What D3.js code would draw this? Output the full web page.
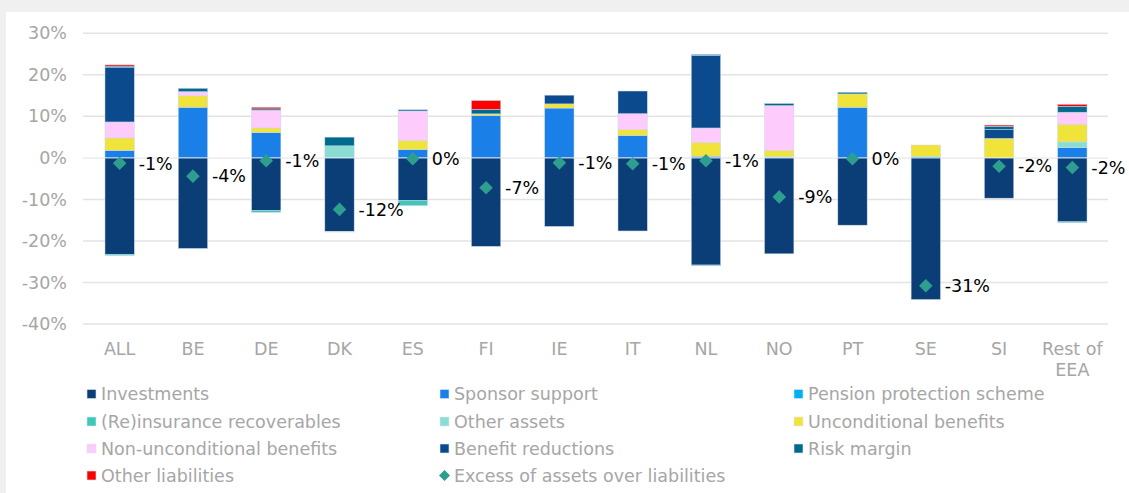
<!DOCTYPE html>
<html>
<head>
<meta charset="utf-8">
<script src="https://cdn.jsdelivr.net/npm/d3@7"></script>
<style>
  html, body { margin: 0; padding: 0; background: #f0f0f0; }
  svg { display: block; font-family: "DejaVu Sans", Verdana, sans-serif; }
</style>
</head>
<body>
<svg id="chart" width="1129" height="493"></svg>
<script>
// ---- data ----
const categories = ["ALL", "BE", "DE", "DK", "ES", "FI", "IE", "IT", "NL", "NO", "PT", "SE", "SI", "Rest of EEA"];
const investments   = [-23.2, -21.8, -12.7, -17.7, -10.3, -21.3, -16.5, -17.6, -25.8, -23.1, -16.2, -34.1, -9.7, -15.4];
const sponsorSupport = [1.8, 12.2, 6.1, 0, 2.0, 10.2, 12.0, 5.4, 0.4, 0, 12.2, 0, 0, 2.5];
const pensionProtection = [0, 0, 0, 0, 0, 0, 0, 0, 0, 0, 0, 0.3, 0, 0];
const reinsurance   = [-0.3, 0, -0.4, 0, -1.2, 0, 0, 0, -0.2, 0, 0, 0, 0, -0.2];
const otherAssets   = [0, 0, 0, 2.9, 0, 0, 0, 0, 0, 0.3, 0, 0, 0, 1.35];
const unconditional = [3.0, 2.75, 1.1, -0.15, 2.2, 0.4, 1.0, 1.45, 3.3, 1.5, 3.2, 2.8, 4.7, 4.25];
const nonUnconditional = [3.85, 1.0, 4.3, 0, 7.1, 0, 0, 3.8, 3.5, 10.8, 0, 0, 0, 2.9];
const benefitReductions = [13.2, 0, 0, 0, 0, 0, 2.1, 5.45, 17.5, 0, 0, 0, 2.1, 0];
const riskMargin    = [0.25, 0.8, 0.3, 2.1, 0.3, 1.1, 0, 0, 0.2, 0.5, 0.4, 0, 0.8, 1.4];
const otherLiabilities = [0.3, 0, 0.4, 0, 0, 2.1, 0, 0, 0, 0, 0, 0, 0.3, 0.5];
const excessAssets  = [-1.3, -4.4, -0.7, -12.4, -0.2, -7.2, -1.2, -1.4, -0.7, -9.4, -0.2, -30.8, -2.0, -2.3];
const yTicks = [-40, -30, -20, -10, 0, 10, 20, 30];

const seriesNames = ["Investments", "Sponsor support", "Pension protection scheme",
  "(Re)insurance recoverables", "Other assets", "Unconditional benefits",
  "Non-unconditional benefits", "Benefit reductions", "Risk margin", "Other liabilities"];
const seriesValues = [investments, sponsorSupport, pensionProtection, reinsurance, otherAssets,
  unconditional, nonUnconditional, benefitReductions, riskMargin, otherLiabilities];
const seriesColors = ["#0b3d77", "#1a80e8", "#00b0f0", "#3fc8b8", "#8addd3",
  "#f0e33a", "#fdccfd", "#0c4a8e", "#006a8e", "#ff0000"];
const excessName = "Excess of assets over liabilities";
const excessColor = "#2e9e8e";

// ---- build ----
const svg = d3.select("#chart");
svg.append("rect").attr("x", 6).attr("y", 12).attr("width", 1129 - 6).attr("height", 493 - 12).attr("fill", "#fff");

const x = d3.scaleBand().domain(categories).range([83, 1109]).paddingInner(0.6).paddingOuter(0.3);
const y = d3.scaleLinear().domain([-40, 30]).range([324, 33.3]);

// gridlines
svg.append("g").selectAll("line").data(yTicks).join("line")
  .attr("x1", 83).attr("x2", 1108)
  .attr("y1", d => y(d)).attr("y2", d => y(d))
  .attr("stroke", "#e3e3e3").attr("stroke-width", 1.5);

// y axis labels
const yAxis = d3.axisLeft(y).tickValues(yTicks).tickFormat(d => d + "%").tickSize(0).tickPadding(0);
const ya = svg.append("g").attr("transform", "translate(67,0)").call(yAxis);
ya.select(".domain").remove();
ya.selectAll("text").attr("fill", "#a6a6a6").attr("font-size", "17.5px")
  .attr("font-family", "DejaVu Sans, Verdana, sans-serif");

// stacked bars
const table = categories.map((c, i) => {
  const o = { cat: c };
  seriesNames.forEach((s, k) => o[s] = seriesValues[k][i]);
  return o;
});
const stack = d3.stack().keys(seriesNames).offset(d3.stackOffsetDiverging);
const stacked = stack(table);

svg.append("g").selectAll("g").data(stacked).join("g")
  .attr("fill", (d, i) => seriesColors[i])
  .selectAll("rect").data(d => d.filter(p => p[1] !== p[0])).join("rect")
  .attr("x", d => x(d.data.cat))
  .attr("width", x.bandwidth())
  .attr("y", d => y(Math.max(d[0], d[1])))
  .attr("height", d => Math.abs(y(d[0]) - y(d[1])))
  .attr("stroke", "#c8d8ea").attr("stroke-width", 0.5);

// zero line separator
svg.append("line").attr("x1", 83).attr("x2", 1108).attr("y1", y(0)).attr("y2", y(0))
  .attr("stroke", "#ffffff").attr("stroke-width", 1).attr("stroke-opacity", 0.6);

// diamonds
const dsz = 6.8;
const diamond = `M0,${-dsz}L${dsz},0L0,${dsz}L${-dsz},0Z`;
svg.append("g").selectAll("path").data(categories).join("path")
  .attr("d", diamond)
  .attr("transform", (c, i) => `translate(${x(c) + x.bandwidth() / 2},${y(excessAssets[i])})`)
  .attr("fill", excessColor);

// data labels
const fmt = v => { const r = Math.round(v); return (r === 0 ? 0 : r) + "%"; };
svg.append("g").selectAll("text").data(categories).join("text")
  .attr("x", c => x(c) + x.bandwidth() / 2 + 19)
  .attr("y", (c, i) => y(excessAssets[i]))
  .attr("dy", "0.36em")
  .attr("font-size", "17.5px").attr("fill", "#000")
  .text((c, i) => fmt(excessAssets[i]));

// x axis labels
const xl = svg.append("g").selectAll("text").data(categories).join("text")
  .attr("x", c => x(c) + x.bandwidth() / 2)
  .attr("y", 355)
  .attr("text-anchor", "middle")
  .attr("font-size", "17.5px").attr("fill", "#a6a6a6");
xl.each(function (c) {
  const words = c === "Rest of EEA" ? ["Rest of", "EEA"] : [c];
  const t = d3.select(this);
  words.forEach((w, k) => t.append("tspan").attr("x", x(c) + x.bandwidth() / 2).attr("dy", k === 0 ? 0 : 21).text(w));
});

// legend
const legendItems = seriesNames.map((n, i) => ({ name: n, color: seriesColors[i], type: "rect" }))
  .concat([{ name: excessName, color: excessColor, type: "diamond" }]);
const colX = [87, 440, 794];
const rowY = [394, 421.5, 448.5, 475.5];
const lg = svg.append("g").selectAll("g").data(legendItems).join("g")
  .attr("transform", (d, i) => `translate(${colX[i % 3]},${rowY[Math.floor(i / 3)]})`);
lg.each(function (d) {
  const g = d3.select(this);
  if (d.type === "rect") {
    g.append("rect").attr("x", 0).attr("y", -4.5).attr("width", 9).attr("height", 9)
      .attr("fill", d.color).attr("stroke", "#dce6f0").attr("stroke-width", 0.6);
  } else {
    g.append("path").attr("d", "M4.5,-5.5L10,0L4.5,5.5L-1,0Z").attr("fill", d.color);
  }
  g.append("text").attr("x", 14).attr("y", 0).attr("dy", "0.35em")
    .attr("font-size", "17.5px").attr("fill", "#a6a6a6").text(d.name);
});
</script>
</body>
</html>
